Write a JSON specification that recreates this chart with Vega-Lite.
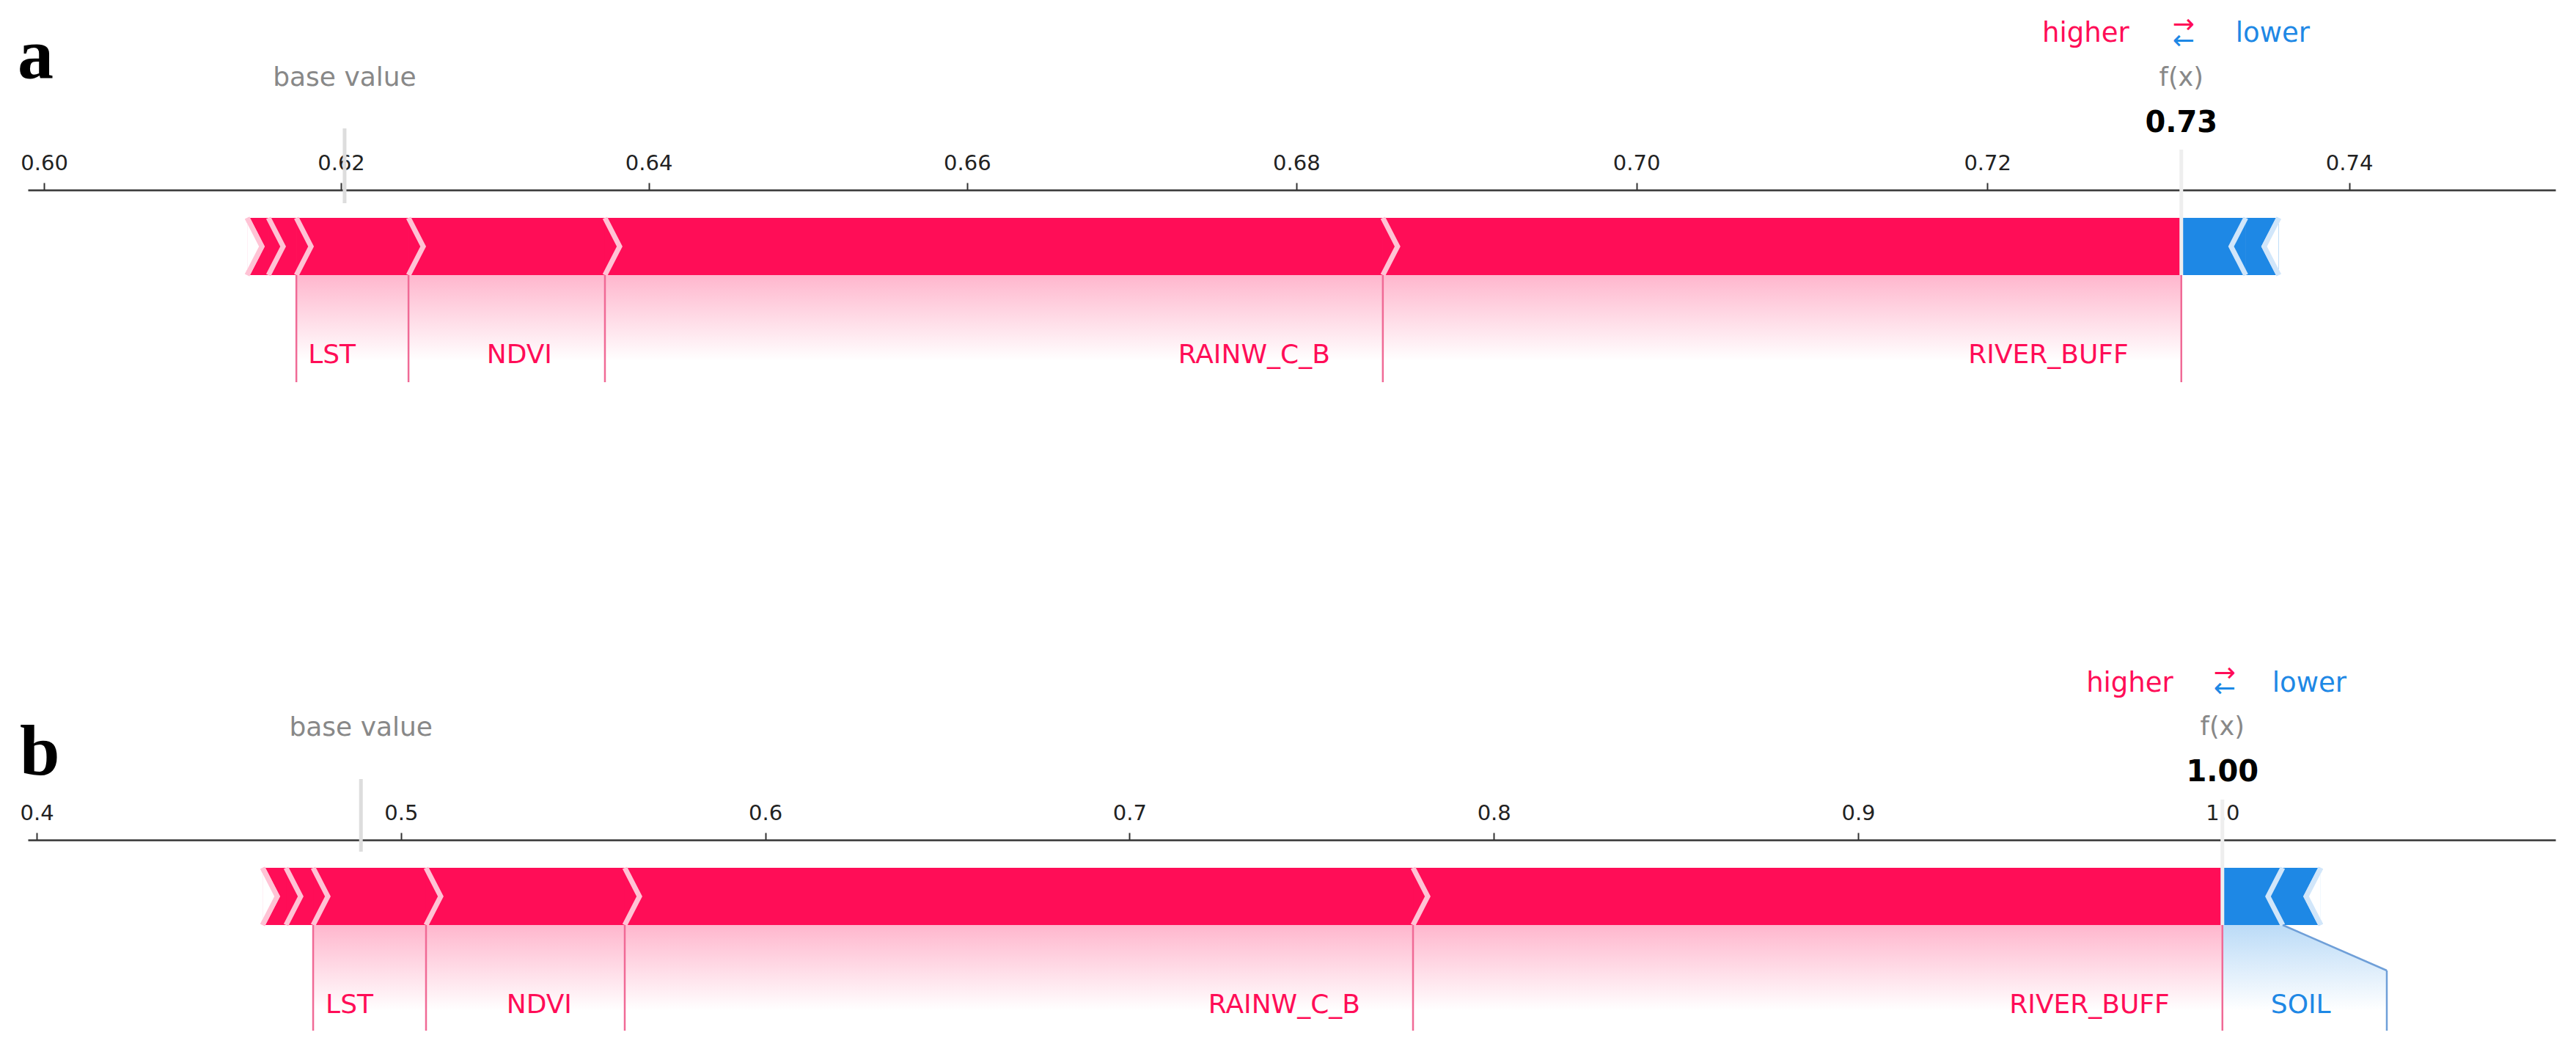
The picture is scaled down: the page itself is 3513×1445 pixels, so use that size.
{
  "$schema": "https://vega.github.io/schema/vega-lite/v6.json",
  "padding": {"left": 24, "top": 0, "right": 10, "bottom": 10},
  "background": "white",
  "config": {"view": {"stroke": null}, "font": "DejaVu Sans", "axis": {"grid": false}},
  "datasets": {
    "seg_a": [
      {"feature": "minor_1", "label": "", "sign": "pos", "labeled": false, "start": 0.61376, "end": 0.61518},
      {"feature": "minor_2", "label": "", "sign": "pos", "labeled": false, "start": 0.61518, "end": 0.61704},
      {"feature": "LST", "label": "LST", "sign": "pos", "labeled": true, "start": 0.61704, "end": 0.62445},
      {"feature": "NDVI", "label": "NDVI", "sign": "pos", "labeled": true, "start": 0.62445, "end": 0.6372},
      {"feature": "RAINW_C_B", "label": "RAINW_C_B", "sign": "pos", "labeled": true, "start": 0.6372, "end": 0.68515},
      {"feature": "RIVER_BUFF", "label": "RIVER_BUFF", "sign": "pos", "labeled": true, "start": 0.68515, "end": 0.7308},
      {"feature": "minor_3", "label": "", "sign": "neg", "labeled": false, "start": 0.7308, "end": 0.73435},
      {"feature": "minor_4", "label": "", "sign": "neg", "labeled": false, "start": 0.73435, "end": 0.73616}
    ],
    "seg_b": [
      {"feature": "minor_1", "label": "", "sign": "pos", "labeled": false, "start": 0.462, "end": 0.46844},
      {"feature": "minor_2", "label": "", "sign": "pos", "labeled": false, "start": 0.46844, "end": 0.47589},
      {"feature": "LST", "label": "LST", "sign": "pos", "labeled": true, "start": 0.47589, "end": 0.50688},
      {"feature": "NDVI", "label": "NDVI", "sign": "pos", "labeled": true, "start": 0.50688, "end": 0.56143},
      {"feature": "RAINW_C_B", "label": "RAINW_C_B", "sign": "pos", "labeled": true, "start": 0.56143, "end": 0.77782},
      {"feature": "RIVER_BUFF", "label": "RIVER_BUFF", "sign": "pos", "labeled": true, "start": 0.77782, "end": 1.0},
      {"feature": "SOIL", "label": "SOIL", "sign": "neg", "labeled": true, "start": 1.0, "end": 1.01655, "label_end": 1.04513},
      {"feature": "minor_3", "label": "", "sign": "neg", "labeled": false, "start": 1.01655, "end": 1.02701}
    ],
    "info_a": [{"panel": "a", "base": 0.62024, "fx": 0.7308}],
    "info_b": [{"panel": "b", "base": 0.48901, "fx": 1.0}]
  },
  "spacing": 620,
  "bounds": "flush",
  "vconcat": [
    {
      "width": 3447,
      "height": 266,
      "layer": [
        {
          "data": {"name": "seg_a"},
          "mark": {"type": "rect", "opacity": 1},
          "encoding": {
            "x": {"field": "start", "type": "quantitative", "title": null, "scale": {"type": "pow", "exponent": 2.1, "domain": [0.59889, 0.751146], "nice": false, "zero": false},
              "axis": {"orient": "top", "values": [0.6, 0.62, 0.64, 0.66, 0.68, 0.7, 0.72, 0.74], "format": ".2f", "title": null, "grid": false, "tickSize": 10, "tickWidth": 2, "tickColor": "#333333", "domainColor": "#333333", "domainWidth": 2.5, "labelFont": "DejaVu Sans", "labelFontSize": 29, "labelColor": "#222222", "labelPadding": 12, "labelFlush": false, "labelOverlap": false}},
            "x2": {"field": "end"},
            "y": {"datum": 38, "type": "quantitative", "scale": {"domain": [0, 266], "reverse": true}, "axis": null},
            "y2": {"datum": 116},
            "color": {"field": "sign", "type": "nominal", "scale": {"domain": ["pos", "neg"], "range": ["#ff0d57", "#1e88e5"]}, "legend": null}
          }
        },
        {
          "data": {"name": "info_a"},
          "mark": {"type": "rect", "color": "white", "opacity": 1},
          "encoding": {
            "x": {"field": "fx", "type": "quantitative", "title": null},
            "x2": {"field": "fx"},
            "y": {"datum": -259, "type": "quantitative", "scale": {"domain": [0, 266], "reverse": true}, "axis": null},
            "y2": {"datum": -256}
          }
        },
        {
          "data": {"name": "seg_a"},
          "transform": [{"filter": "datum.labeled && datum.sign == 'pos'"}],
          "mark": {"type": "rect", "opacity": 1, "fill": {"gradient": "linear", "x1": 0, "y1": 0, "x2": 0, "y2": 1, "stops": [{"offset": 0, "color": "#ffb6cd"}, {"offset": 0.8, "color": "#ffffff"}]}},
          "encoding": {
            "x": {"field": "start", "type": "quantitative", "title": null},
            "x2": {"field": "end"},
            "y": {"datum": 116, "type": "quantitative", "scale": {"domain": [0, 266], "reverse": true}, "axis": null},
            "y2": {"datum": 262}
          }
        },
        {
          "data": {"name": "info_a"},
          "mark": {"type": "rule", "color": "#dddddd", "strokeWidth": 5},
          "encoding": {
            "x": {"field": "base", "type": "quantitative", "title": null},
            "y": {"datum": -84, "type": "quantitative", "scale": {"domain": [0, 266], "reverse": true}, "axis": null},
            "y2": {"datum": 18}
          }
        },
        {
          "data": {"name": "seg_a"},
          "mark": {"type": "rect", "opacity": 1},
          "encoding": {
            "x": {"field": "start", "type": "quantitative", "title": null},
            "x2": {"field": "end"},
            "y": {"datum": 38, "type": "quantitative", "scale": {"domain": [0, 266], "reverse": true}, "axis": null},
            "y2": {"datum": 116},
            "color": {"field": "sign", "type": "nominal", "scale": {"domain": ["pos", "neg"], "range": ["#ff0d57", "#1e88e5"]}, "legend": null}
          }
        },
        {
          "data": {"name": "info_a"},
          "mark": {"type": "rule", "color": "#eeeeee", "strokeWidth": 5},
          "encoding": {
            "x": {"field": "fx", "type": "quantitative", "title": null},
            "y": {"datum": -55, "type": "quantitative", "scale": {"domain": [0, 266], "reverse": true}, "axis": null},
            "y2": {"datum": 116}
          }
        },
        {
          "data": {"name": "seg_a"},
          "transform": [{"filter": "datum.sign == 'pos'"}],
          "mark": {"type": "point", "shape": "M0,-1L0.513,0L0,1", "size": 6084, "filled": false, "color": "#ffc3d5", "strokeWidth": 7, "opacity": 1},
          "encoding": {
            "x": {"field": "start", "type": "quantitative", "title": null},
            "y": {"datum": 77, "type": "quantitative", "scale": {"domain": [0, 266], "reverse": true}, "axis": null}
          }
        },
        {
          "data": {"name": "seg_a"},
          "transform": [{"filter": "datum.sign == 'pos'"}, {"joinaggregate": [{"op": "min", "field": "start", "as": "minstart"}]}, {"filter": "datum.start == datum.minstart"}],
          "mark": {"type": "point", "shape": "M0,-1L0.513,0L0,1", "size": 6084, "filled": true, "fill": "white", "stroke": "#ffc3d5", "strokeWidth": 7, "opacity": 1},
          "encoding": {
            "x": {"field": "start", "type": "quantitative", "title": null},
            "y": {"datum": 77, "type": "quantitative", "scale": {"domain": [0, 266], "reverse": true}, "axis": null}
          }
        },
        {
          "data": {"name": "seg_a"},
          "transform": [{"filter": "datum.sign == 'neg'"}],
          "mark": {"type": "point", "shape": "M0,-1L-0.513,0L0,1", "size": 6084, "filled": false, "color": "#d1e6fa", "strokeWidth": 7, "opacity": 1},
          "encoding": {
            "x": {"field": "end", "type": "quantitative", "title": null},
            "y": {"datum": 77, "type": "quantitative", "scale": {"domain": [0, 266], "reverse": true}, "axis": null}
          }
        },
        {
          "data": {"name": "seg_a"},
          "transform": [{"filter": "datum.sign == 'neg'"}, {"joinaggregate": [{"op": "max", "field": "end", "as": "maxend"}]}, {"filter": "datum.end == datum.maxend"}],
          "mark": {"type": "point", "shape": "M0,-1L-0.513,0L0,1", "size": 6084, "filled": true, "fill": "white", "stroke": "#d1e6fa", "strokeWidth": 7, "opacity": 1},
          "encoding": {
            "x": {"field": "end", "type": "quantitative", "title": null},
            "y": {"datum": 77, "type": "quantitative", "scale": {"domain": [0, 266], "reverse": true}, "axis": null}
          }
        },
        {
          "data": {"name": "seg_a"},
          "transform": [{"filter": "datum.labeled && datum.sign == 'pos'"}],
          "mark": {"type": "rule", "color": "#f06a96", "strokeWidth": 2.5},
          "encoding": {
            "x": {"field": "start", "type": "quantitative", "title": null},
            "y": {"datum": 116, "type": "quantitative", "scale": {"domain": [0, 266], "reverse": true}, "axis": null},
            "y2": {"datum": 262}
          }
        },
        {
          "data": {"name": "info_a"},
          "mark": {"type": "rule", "color": "#f06a96", "strokeWidth": 2.5},
          "encoding": {
            "x": {"field": "fx", "type": "quantitative", "title": null},
            "y": {"datum": 116, "type": "quantitative", "scale": {"domain": [0, 266], "reverse": true}, "axis": null},
            "y2": {"datum": 262}
          }
        },
        {
          "data": {"name": "seg_a"},
          "transform": [{"filter": "datum.labeled && datum.sign == 'pos'"}],
          "mark": {"type": "text", "align": "right", "baseline": "alphabetic", "dx": -72, "font": "DejaVu Sans", "fontSize": 36, "color": "#ff0d57"},
          "encoding": {
            "x": {"field": "end", "type": "quantitative", "title": null},
            "y": {"datum": 236, "type": "quantitative", "scale": {"domain": [0, 266], "reverse": true}, "axis": null},
            "text": {"field": "label"}
          }
        },
        {
          "data": {"name": "info_a"},
          "mark": {"type": "text", "text": "base value", "align": "center", "baseline": "alphabetic", "font": "DejaVu Sans", "fontSize": 36, "color": "#888888"},
          "encoding": {
            "x": {"field": "base", "type": "quantitative", "title": null},
            "y": {"datum": -142, "type": "quantitative", "scale": {"domain": [0, 266], "reverse": true}, "axis": null}
          }
        },
        {
          "data": {"name": "info_a"},
          "mark": {"type": "text", "text": "f(x)", "align": "center", "baseline": "alphabetic", "font": "DejaVu Sans", "fontSize": 35, "color": "#888888"},
          "encoding": {
            "x": {"field": "fx", "type": "quantitative", "title": null},
            "y": {"datum": -142, "type": "quantitative", "scale": {"domain": [0, 266], "reverse": true}, "axis": null}
          }
        },
        {
          "data": {"name": "info_a"},
          "mark": {"type": "text", "align": "center", "baseline": "alphabetic", "font": "DejaVu Sans", "fontSize": 40, "fontWeight": "bold", "color": "#000000"},
          "encoding": {
            "x": {"field": "fx", "type": "quantitative", "title": null},
            "y": {"datum": -79, "type": "quantitative", "scale": {"domain": [0, 266], "reverse": true}, "axis": null},
            "text": {"field": "fx", "format": ".2f"}
          }
        },
        {
          "data": {"name": "info_a"},
          "mark": {"type": "text", "text": "higher", "align": "right", "dx": -71, "baseline": "alphabetic", "font": "DejaVu Sans", "fontSize": 37, "color": "#ff0d57"},
          "encoding": {
            "x": {"field": "fx", "type": "quantitative", "title": null},
            "y": {"datum": -202, "type": "quantitative", "scale": {"domain": [0, 266], "reverse": true}, "axis": null}
          }
        },
        {
          "data": {"name": "info_a"},
          "mark": {"type": "text", "text": "lower", "align": "left", "dx": 74, "baseline": "alphabetic", "font": "DejaVu Sans", "fontSize": 37, "color": "#1e88e5"},
          "encoding": {
            "x": {"field": "fx", "type": "quantitative", "title": null},
            "y": {"datum": -202, "type": "quantitative", "scale": {"domain": [0, 266], "reverse": true}, "axis": null}
          }
        },
        {
          "data": {"name": "info_a"},
          "mark": {"type": "text", "text": "→", "align": "center", "dx": 3, "baseline": "alphabetic", "font": "DejaVu Sans", "fontSize": 36, "color": "#ff0d57"},
          "encoding": {
            "x": {"field": "fx", "type": "quantitative", "title": null},
            "y": {"datum": -214, "type": "quantitative", "scale": {"domain": [0, 266], "reverse": true}, "axis": null}
          }
        },
        {
          "data": {"name": "info_a"},
          "mark": {"type": "text", "text": "←", "align": "center", "dx": 3, "baseline": "alphabetic", "font": "DejaVu Sans", "fontSize": 36, "color": "#1e88e5"},
          "encoding": {
            "x": {"field": "fx", "type": "quantitative", "title": null},
            "y": {"datum": -192, "type": "quantitative", "scale": {"domain": [0, 266], "reverse": true}, "axis": null}
          }
        },
        {
          "data": {"name": "info_a"},
          "mark": {"type": "text", "align": "left", "dx": -14, "baseline": "alphabetic", "font": "Liberation Serif", "fontSize": 98, "fontWeight": "bold", "color": "#000000"},
          "encoding": {
            "x": {"datum": 0.59889, "type": "quantitative", "title": null},
            "y": {"datum": -153, "type": "quantitative", "scale": {"domain": [0, 266], "reverse": true}, "axis": null},
            "text": {"field": "panel"}
          }
        }
      ]
    },
    {
      "width": 3447,
      "height": 266,
      "layer": [
        {
          "data": {"name": "seg_b"},
          "mark": {"type": "rect", "opacity": 1},
          "encoding": {
            "x": {"field": "start", "type": "quantitative", "title": null, "scale": {"domain": [0.39758, 1.09143], "nice": false, "zero": false},
              "axis": {"orient": "top", "values": [0.4, 0.5, 0.6, 0.7, 0.8, 0.9, 1.0], "format": ".1f", "title": null, "grid": false, "tickSize": 10, "tickWidth": 2, "tickColor": "#333333", "domainColor": "#333333", "domainWidth": 2.5, "labelFont": "DejaVu Sans", "labelFontSize": 29, "labelColor": "#222222", "labelPadding": 12, "labelFlush": false, "labelOverlap": false}},
            "x2": {"field": "end"},
            "y": {"datum": 38, "type": "quantitative", "scale": {"domain": [0, 266], "reverse": true}, "axis": null},
            "y2": {"datum": 116},
            "color": {"field": "sign", "type": "nominal", "scale": {"domain": ["pos", "neg"], "range": ["#ff0d57", "#1e88e5"]}, "legend": null}
          }
        },
        {
          "data": {"name": "seg_b"},
          "transform": [{"filter": "datum.labeled && datum.sign == 'pos'"}],
          "mark": {"type": "rect", "opacity": 1, "fill": {"gradient": "linear", "x1": 0, "y1": 0, "x2": 0, "y2": 1, "stops": [{"offset": 0, "color": "#ffb6cd"}, {"offset": 0.8, "color": "#ffffff"}]}},
          "encoding": {
            "x": {"field": "start", "type": "quantitative", "title": null},
            "x2": {"field": "end"},
            "y": {"datum": 116, "type": "quantitative", "scale": {"domain": [0, 266], "reverse": true}, "axis": null},
            "y2": {"datum": 262}
          }
        },
        {
          "data": {"name": "seg_b"},
          "transform": [{"filter": "datum.labeled && datum.sign == 'neg'"}],
          "mark": {"type": "rect", "opacity": 1, "fill": {"gradient": "linear", "x1": 0, "y1": 0, "x2": 0, "y2": 1, "stops": [{"offset": 0, "color": "#bbdbf7"}, {"offset": 0.8, "color": "#ffffff"}]}},
          "encoding": {
            "x": {"field": "start", "type": "quantitative", "title": null},
            "x2": {"field": "end"},
            "y": {"datum": 116, "type": "quantitative", "scale": {"domain": [0, 266], "reverse": true}, "axis": null},
            "y2": {"datum": 262}
          }
        },
        {
          "data": {"name": "seg_b"},
          "transform": [{"filter": "datum.labeled && datum.sign == 'neg'"}],
          "mark": {"type": "rect", "opacity": 1, "fill": {"gradient": "linear", "x1": 0, "y1": 0, "x2": 0, "y2": 1, "stops": [{"offset": 0, "color": "#dfeefb"}, {"offset": 0.655, "color": "#ffffff"}]}},
          "encoding": {
            "x": {"field": "end", "type": "quantitative", "title": null},
            "x2": {"field": "label_end"},
            "y": {"datum": 178, "type": "quantitative", "scale": {"domain": [0, 266], "reverse": true}, "axis": null},
            "y2": {"datum": 262}
          }
        },
        {
          "data": {"name": "seg_b"},
          "transform": [{"filter": "datum.labeled && datum.sign == 'neg'"}],
          "mark": {"type": "point", "shape": "M0,0L2,0.873L0,0.873Z", "size": 20164, "filled": true, "opacity": 1, "strokeWidth": 0, "fill": {"gradient": "linear", "x1": 0, "y1": 0, "x2": 0, "y2": 1, "stops": [{"offset": 0, "color": "#bbdbf7"}, {"offset": 1, "color": "#dfeefb"}]}},
          "encoding": {
            "x": {"field": "end", "type": "quantitative", "title": null},
            "y": {"datum": 116, "type": "quantitative", "scale": {"domain": [0, 266], "reverse": true}, "axis": null}
          }
        },
        {
          "data": {"name": "info_b"},
          "mark": {"type": "rule", "color": "#dddddd", "strokeWidth": 5},
          "encoding": {
            "x": {"field": "base", "type": "quantitative", "title": null},
            "y": {"datum": -83, "type": "quantitative", "scale": {"domain": [0, 266], "reverse": true}, "axis": null},
            "y2": {"datum": 16}
          }
        },
        {
          "data": {"name": "seg_b"},
          "mark": {"type": "rect", "opacity": 1},
          "encoding": {
            "x": {"field": "start", "type": "quantitative", "title": null},
            "x2": {"field": "end"},
            "y": {"datum": 38, "type": "quantitative", "scale": {"domain": [0, 266], "reverse": true}, "axis": null},
            "y2": {"datum": 116},
            "color": {"field": "sign", "type": "nominal", "scale": {"domain": ["pos", "neg"], "range": ["#ff0d57", "#1e88e5"]}, "legend": null}
          }
        },
        {
          "data": {"name": "info_b"},
          "mark": {"type": "rule", "color": "#eeeeee", "strokeWidth": 5},
          "encoding": {
            "x": {"field": "fx", "type": "quantitative", "title": null},
            "y": {"datum": -55, "type": "quantitative", "scale": {"domain": [0, 266], "reverse": true}, "axis": null},
            "y2": {"datum": 116}
          }
        },
        {
          "data": {"name": "seg_b"},
          "transform": [{"filter": "datum.sign == 'pos'"}],
          "mark": {"type": "point", "shape": "M0,-1L0.513,0L0,1", "size": 6084, "filled": false, "color": "#ffc3d5", "strokeWidth": 7, "opacity": 1},
          "encoding": {
            "x": {"field": "start", "type": "quantitative", "title": null},
            "y": {"datum": 77, "type": "quantitative", "scale": {"domain": [0, 266], "reverse": true}, "axis": null}
          }
        },
        {
          "data": {"name": "seg_b"},
          "transform": [{"filter": "datum.sign == 'pos'"}, {"joinaggregate": [{"op": "min", "field": "start", "as": "minstart"}]}, {"filter": "datum.start == datum.minstart"}],
          "mark": {"type": "point", "shape": "M0,-1L0.513,0L0,1", "size": 6084, "filled": true, "fill": "white", "stroke": "#ffc3d5", "strokeWidth": 7, "opacity": 1},
          "encoding": {
            "x": {"field": "start", "type": "quantitative", "title": null},
            "y": {"datum": 77, "type": "quantitative", "scale": {"domain": [0, 266], "reverse": true}, "axis": null}
          }
        },
        {
          "data": {"name": "seg_b"},
          "transform": [{"filter": "datum.sign == 'neg'"}],
          "mark": {"type": "point", "shape": "M0,-1L-0.513,0L0,1", "size": 6084, "filled": false, "color": "#d1e6fa", "strokeWidth": 7, "opacity": 1},
          "encoding": {
            "x": {"field": "end", "type": "quantitative", "title": null},
            "y": {"datum": 77, "type": "quantitative", "scale": {"domain": [0, 266], "reverse": true}, "axis": null}
          }
        },
        {
          "data": {"name": "seg_b"},
          "transform": [{"filter": "datum.sign == 'neg'"}, {"joinaggregate": [{"op": "max", "field": "end", "as": "maxend"}]}, {"filter": "datum.end == datum.maxend"}],
          "mark": {"type": "point", "shape": "M0,-1L-0.513,0L0,1", "size": 6084, "filled": true, "fill": "white", "stroke": "#d1e6fa", "strokeWidth": 7, "opacity": 1},
          "encoding": {
            "x": {"field": "end", "type": "quantitative", "title": null},
            "y": {"datum": 77, "type": "quantitative", "scale": {"domain": [0, 266], "reverse": true}, "axis": null}
          }
        },
        {
          "data": {"name": "seg_b"},
          "transform": [{"filter": "datum.labeled && datum.sign == 'pos'"}],
          "mark": {"type": "rule", "color": "#f06a96", "strokeWidth": 2.5},
          "encoding": {
            "x": {"field": "start", "type": "quantitative", "title": null},
            "y": {"datum": 116, "type": "quantitative", "scale": {"domain": [0, 266], "reverse": true}, "axis": null},
            "y2": {"datum": 260}
          }
        },
        {
          "data": {"name": "info_b"},
          "mark": {"type": "rule", "color": "#f06a96", "strokeWidth": 2.5},
          "encoding": {
            "x": {"field": "fx", "type": "quantitative", "title": null},
            "y": {"datum": 116, "type": "quantitative", "scale": {"domain": [0, 266], "reverse": true}, "axis": null},
            "y2": {"datum": 260}
          }
        },
        {
          "data": {"name": "seg_b"},
          "transform": [{"filter": "datum.labeled && datum.sign == 'neg'"}],
          "mark": {"type": "rule", "color": "#6f9fd8", "strokeWidth": 2.5},
          "encoding": {
            "x": {"field": "end", "type": "quantitative", "title": null},
            "x2": {"field": "label_end"},
            "y": {"datum": 116, "type": "quantitative", "scale": {"domain": [0, 266], "reverse": true}, "axis": null},
            "y2": {"datum": 178}
          }
        },
        {
          "data": {"name": "seg_b"},
          "transform": [{"filter": "datum.labeled && datum.sign == 'neg'"}],
          "mark": {"type": "rule", "color": "#6f9fd8", "strokeWidth": 2.5},
          "encoding": {
            "x": {"field": "label_end", "type": "quantitative", "title": null},
            "y": {"datum": 178, "type": "quantitative", "scale": {"domain": [0, 266], "reverse": true}, "axis": null},
            "y2": {"datum": 260}
          }
        },
        {
          "data": {"name": "seg_b"},
          "transform": [{"filter": "datum.labeled && datum.sign == 'pos'"}],
          "mark": {"type": "text", "align": "right", "baseline": "alphabetic", "dx": -72, "font": "DejaVu Sans", "fontSize": 36, "color": "#ff0d57"},
          "encoding": {
            "x": {"field": "end", "type": "quantitative", "title": null},
            "y": {"datum": 236, "type": "quantitative", "scale": {"domain": [0, 266], "reverse": true}, "axis": null},
            "text": {"field": "label"}
          }
        },
        {
          "data": {"name": "seg_b"},
          "transform": [{"filter": "datum.labeled && datum.sign == 'neg'"}],
          "mark": {"type": "text", "align": "left", "baseline": "alphabetic", "dx": 66, "font": "DejaVu Sans", "fontSize": 36, "color": "#1e88e5"},
          "encoding": {
            "x": {"field": "start", "type": "quantitative", "title": null},
            "y": {"datum": 236, "type": "quantitative", "scale": {"domain": [0, 266], "reverse": true}, "axis": null},
            "text": {"field": "label"}
          }
        },
        {
          "data": {"name": "info_b"},
          "mark": {"type": "text", "text": "base value", "align": "center", "baseline": "alphabetic", "font": "DejaVu Sans", "fontSize": 36, "color": "#888888"},
          "encoding": {
            "x": {"field": "base", "type": "quantitative", "title": null},
            "y": {"datum": -142, "type": "quantitative", "scale": {"domain": [0, 266], "reverse": true}, "axis": null}
          }
        },
        {
          "data": {"name": "info_b"},
          "mark": {"type": "text", "text": "f(x)", "align": "center", "baseline": "alphabetic", "font": "DejaVu Sans", "fontSize": 35, "color": "#888888"},
          "encoding": {
            "x": {"field": "fx", "type": "quantitative", "title": null},
            "y": {"datum": -143, "type": "quantitative", "scale": {"domain": [0, 266], "reverse": true}, "axis": null}
          }
        },
        {
          "data": {"name": "info_b"},
          "mark": {"type": "text", "align": "center", "baseline": "alphabetic", "font": "DejaVu Sans", "fontSize": 40, "fontWeight": "bold", "color": "#000000"},
          "encoding": {
            "x": {"field": "fx", "type": "quantitative", "title": null},
            "y": {"datum": -80, "type": "quantitative", "scale": {"domain": [0, 266], "reverse": true}, "axis": null},
            "text": {"field": "fx", "format": ".2f"}
          }
        },
        {
          "data": {"name": "info_b"},
          "mark": {"type": "text", "text": "higher", "align": "right", "dx": -67, "baseline": "alphabetic", "font": "DejaVu Sans", "fontSize": 37, "color": "#ff0d57"},
          "encoding": {
            "x": {"field": "fx", "type": "quantitative", "title": null},
            "y": {"datum": -202, "type": "quantitative", "scale": {"domain": [0, 266], "reverse": true}, "axis": null}
          }
        },
        {
          "data": {"name": "info_b"},
          "mark": {"type": "text", "text": "lower", "align": "left", "dx": 68, "baseline": "alphabetic", "font": "DejaVu Sans", "fontSize": 37, "color": "#1e88e5"},
          "encoding": {
            "x": {"field": "fx", "type": "quantitative", "title": null},
            "y": {"datum": -202, "type": "quantitative", "scale": {"domain": [0, 266], "reverse": true}, "axis": null}
          }
        },
        {
          "data": {"name": "info_b"},
          "mark": {"type": "text", "text": "→", "align": "center", "dx": 3, "baseline": "alphabetic", "font": "DejaVu Sans", "fontSize": 36, "color": "#ff0d57"},
          "encoding": {
            "x": {"field": "fx", "type": "quantitative", "title": null},
            "y": {"datum": -216, "type": "quantitative", "scale": {"domain": [0, 266], "reverse": true}, "axis": null}
          }
        },
        {
          "data": {"name": "info_b"},
          "mark": {"type": "text", "text": "←", "align": "center", "dx": 3, "baseline": "alphabetic", "font": "DejaVu Sans", "fontSize": 36, "color": "#1e88e5"},
          "encoding": {
            "x": {"field": "fx", "type": "quantitative", "title": null},
            "y": {"datum": -195, "type": "quantitative", "scale": {"domain": [0, 266], "reverse": true}, "axis": null}
          }
        },
        {
          "data": {"name": "info_b"},
          "mark": {"type": "text", "align": "left", "dx": -11, "baseline": "alphabetic", "font": "Liberation Serif", "fontSize": 98, "fontWeight": "bold", "color": "#000000"},
          "encoding": {
            "x": {"datum": 0.39758, "type": "quantitative", "title": null},
            "y": {"datum": -89, "type": "quantitative", "scale": {"domain": [0, 266], "reverse": true}, "axis": null},
            "text": {"field": "panel"}
          }
        }
      ]
    }
  ]
}
